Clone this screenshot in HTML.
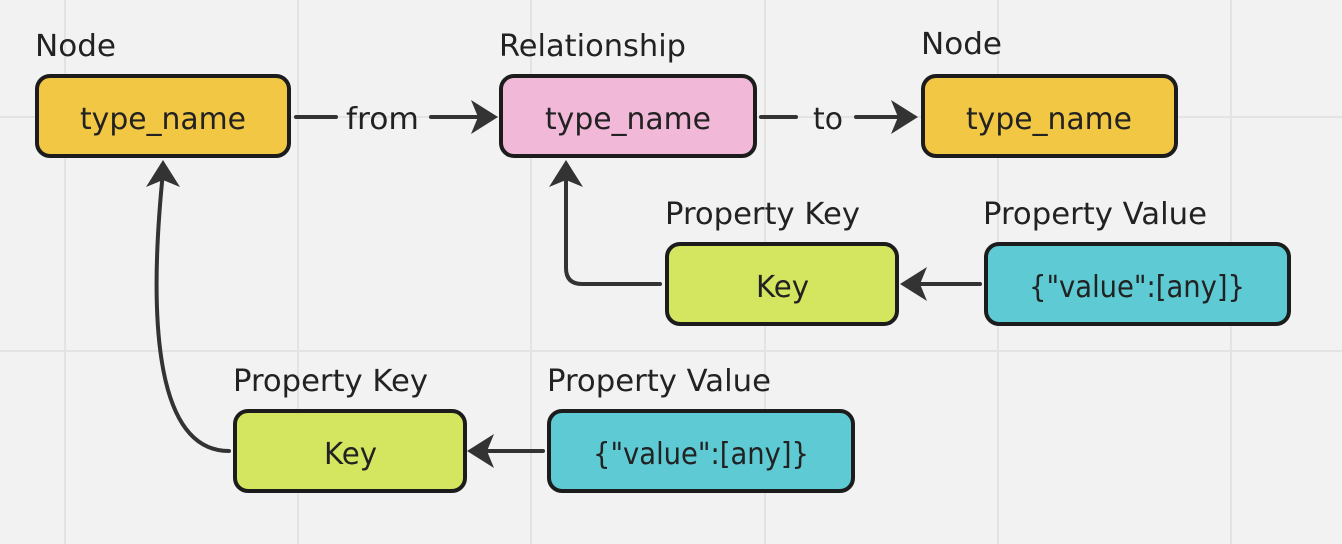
<!DOCTYPE html>
<html><head><meta charset="utf-8"><style>
html,body{margin:0;padding:0;width:1342px;height:544px;overflow:hidden;background:#f2f2f2;}
svg{display:block}
text{font-family:"DejaVu Sans","Liberation Sans",sans-serif;fill:#222;}
</style></head><body>
<svg width="1342" height="544" viewBox="0 0 1342 544">
<g stroke="#e3e3e3" stroke-width="2">
<line x1="65" y1="0" x2="65" y2="544"/><line x1="298" y1="0" x2="298" y2="544"/>
<line x1="531" y1="0" x2="531" y2="544"/><line x1="765" y1="0" x2="765" y2="544"/>
<line x1="998" y1="0" x2="998" y2="544"/><line x1="1231" y1="0" x2="1231" y2="544"/>
<line x1="0" y1="117" x2="1342" y2="117"/><line x1="0" y1="351" x2="1342" y2="351"/>
</g>
<g stroke="#1c1c1c" stroke-width="4">
<rect x="37" y="76" width="252" height="80" rx="13" fill="#f2c744"/>
<rect x="501" y="76" width="254" height="80" rx="13" fill="#f2b8d8"/>
<rect x="923" y="76" width="253" height="80" rx="13" fill="#f2c744"/>
<rect x="667" y="244" width="230" height="80" rx="13" fill="#d4e65f"/>
<rect x="986" y="244" width="303" height="80" rx="13" fill="#5ecad3"/>
<rect x="235" y="411" width="230" height="80" rx="13" fill="#d4e65f"/>
<rect x="549" y="411" width="304" height="80" rx="13" fill="#5ecad3"/>
</g>
<g stroke="#333" stroke-width="4" fill="none" stroke-linecap="round">
<line x1="296" y1="117" x2="336" y2="117"/><line x1="431" y1="117" x2="490" y2="117"/>
<line x1="761" y1="117" x2="796" y2="117"/><line x1="856" y1="117" x2="910" y2="117"/>
<path d="M660 284 H582 Q566 284 566 268 V172"/>
<line x1="980" y1="284" x2="910" y2="284"/>
<path d="M229 451 C150 451,150 300,163 172"/>
<line x1="543" y1="451" x2="478" y2="451"/>
</g>
<g fill="#333">
<path d="M498 117 L471 100 L478 117 L471 134 Z"/>
<path d="M918 117 L891 100 L898 117 L891 134 Z"/>
<path d="M566 160 L549 187 L566 180 L583 187 Z"/>
<path d="M900 284 L927 267 L920 284 L927 301 Z"/>
<path d="M163 160 L146 187 L163 180 L180 187 Z"/>
<path d="M467 451 L494 434 L487 451 L494 468 Z"/>
</g>
<g font-size="30">
<text x="35" y="56" textLength="81" lengthAdjust="spacingAndGlyphs">Node</text>
<text x="499" y="56" textLength="187" lengthAdjust="spacingAndGlyphs">Relationship</text>
<text x="921" y="54" textLength="81" lengthAdjust="spacingAndGlyphs">Node</text>
<text x="665" y="224" textLength="195" lengthAdjust="spacingAndGlyphs">Property Key</text>
<text x="983" y="224" textLength="224" lengthAdjust="spacingAndGlyphs">Property Value</text>
<text x="233" y="391" textLength="195" lengthAdjust="spacingAndGlyphs">Property Key</text>
<text x="547" y="391" textLength="224" lengthAdjust="spacingAndGlyphs">Property Value</text>
<text x="346" y="129" textLength="73" lengthAdjust="spacingAndGlyphs" fill="#333">from</text>
<text x="813" y="129" textLength="30" lengthAdjust="spacingAndGlyphs" fill="#333">to</text>
<text x="80" y="129" textLength="166" lengthAdjust="spacingAndGlyphs">type_name</text>
<text x="545" y="129" textLength="166" lengthAdjust="spacingAndGlyphs">type_name</text>
<text x="966" y="129" textLength="166" lengthAdjust="spacingAndGlyphs">type_name</text>
<text x="756" y="297" textLength="53" lengthAdjust="spacingAndGlyphs">Key</text>
<text x="1029" y="297" textLength="216" lengthAdjust="spacingAndGlyphs">{"value":[any]}</text>
<text x="324" y="464" textLength="53" lengthAdjust="spacingAndGlyphs">Key</text>
<text x="593" y="464" textLength="216" lengthAdjust="spacingAndGlyphs">{"value":[any]}</text>
</g>
</svg>
</body></html>
